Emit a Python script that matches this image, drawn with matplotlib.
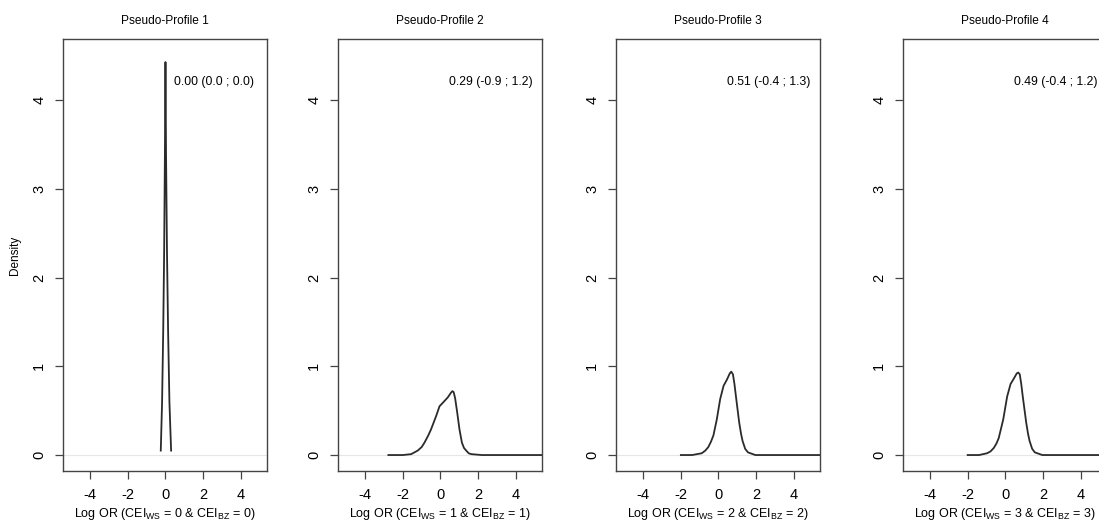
import matplotlib
matplotlib.use('Agg')
import matplotlib.pyplot as plt

plt.rcParams['font.family'] = ['Liberation Sans', 'DejaVu Sans']
plt.rcParams['mathtext.fontset'] = 'custom'
plt.rcParams['mathtext.rm'] = 'Liberation Sans'
plt.rcParams['mathtext.it'] = 'Liberation Sans'
plt.rcParams['axes.unicode_minus'] = False

# titles and annotation texts
titles = ['Pseudo-Profile 1', 'Pseudo-Profile 2', 'Pseudo-Profile 3', 'Pseudo-Profile 4']
summaries = ['0.00 (0.0 ; 0.0)', '0.29 (-0.9 ; 1.2)', '0.51 (-0.4 ; 1.3)', '0.49 (-0.4 ; 1.2)']
cei_levels = [0, 1, 2, 3]

# density curves (x = log OR, y = density)
x1 = [-0.25, -0.18, -0.12, -0.07, -0.03, 0.0, 0.03, 0.08, 0.14, 0.21, 0.30]
y1 = [0.05, 0.60, 1.40, 2.30, 3.40, 4.43, 3.40, 2.30, 1.40, 0.60, 0.05]

x2 = [-2.77, -2.0, -1.56, -1.21, -1.0, -0.85, -0.65, -0.50, -0.23, -0.05, 0.13, 0.39,
      0.55, 0.63, 0.70, 0.78, 0.89, 1.01, 1.14, 1.25, 1.37, 1.50, 1.64, 2.2, 6.0]
y2 = [0.0, 0.0, 0.01, 0.05, 0.09, 0.14, 0.22, 0.29, 0.44, 0.55, 0.59, 0.65,
      0.70, 0.72, 0.71, 0.64, 0.48, 0.29, 0.14, 0.08, 0.05, 0.02, 0.01, 0.0, 0.0]

x3 = [-2.0, -1.4, -0.89, -0.70, -0.54, -0.40, -0.27, -0.09, 0.09, 0.27, 0.45, 0.60,
      0.68, 0.77, 0.85, 0.93, 1.10, 1.20, 1.28, 1.42, 1.57, 1.96, 6.0]
y3 = [0.0, 0.0, 0.02, 0.05, 0.09, 0.15, 0.22, 0.40, 0.63, 0.78, 0.85, 0.92,
      0.94, 0.91, 0.80, 0.66, 0.37, 0.24, 0.16, 0.07, 0.03, 0.0, 0.0]

x4 = [-2.01, -1.4, -0.98, -0.80, -0.62, -0.48, -0.36, -0.12, 0.09, 0.27, 0.44, 0.60,
      0.68, 0.76, 0.84, 0.92, 1.10, 1.20, 1.28, 1.42, 1.56, 1.96, 6.0]
y4 = [0.0, 0.0, 0.02, 0.04, 0.08, 0.13, 0.19, 0.40, 0.66, 0.80, 0.86, 0.92,
      0.93, 0.91, 0.80, 0.66, 0.37, 0.24, 0.16, 0.07, 0.03, 0.0, 0.0]

curves = [(x1, y1), (x2, y2), (x3, y3), (x4, y4)]

W, H = 1099, 525
fig = plt.figure(figsize=(W / 100, H / 100), dpi=100)

# panel edges in pixels (the last one runs off the right side, as in the original)
lefts = [63, 338, 616, 903]
width = 204
top, bottom = 39, 471

line_col = '#2b2b2b'
for i in range(4):
    ax = fig.add_axes([lefts[i] / W, (H - bottom) / H, width / W, (bottom - top) / H])
    ax.axhline(0, color='#e6e6e6', lw=0.8, zorder=1)
    xs, ys = curves[i]
    ax.plot(xs, ys, color=line_col, lw=1.3, zorder=2)
    ax.set_xlim(-5.45, 5.4)
    ax.set_ylim(-0.18, 4.69)
    ax.set_xticks([-4, -2, 0, 2, 4])
    ax.set_yticks([0, 1, 2, 3, 4])
    ax.tick_params(axis='both', direction='out', length=6, width=0.9,
                   color='#444444', labelsize=10.5, pad=6)
    for lab in ax.get_yticklabels():
        lab.set_rotation(90)
        lab.set_va('center')
    for s in ax.spines.values():
        s.set_color('#444444')
        s.set_linewidth(1.0)
    ax.set_title(titles[i], fontsize=8.6, pad=11)
    ax.text(0.45, 4.2, summaries[i], fontsize=8.8, ha='left', va='center')
    c = cei_levels[i]
    ax.set_xlabel(r'Log OR (CEI$_{\mathrm{WS}}$ = %d & CEI$_{\mathrm{BZ}}$ = %d)' % (c, c),
                  fontsize=9, labelpad=3)
    if i == 0:
        ax.set_ylabel('Density', fontsize=8.5, labelpad=8)

fig.savefig('out.png', dpi=100)
